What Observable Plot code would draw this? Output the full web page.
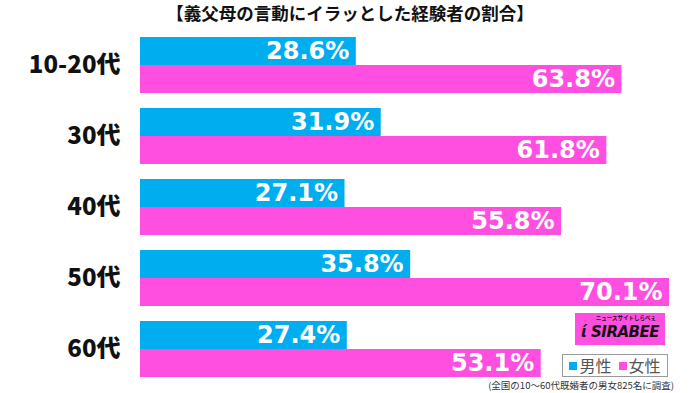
<!DOCTYPE html>
<html>
<head>
<meta charset="utf-8">
<script src="https://cdn.jsdelivr.net/npm/d3@7"></script>
<script src="https://cdn.jsdelivr.net/npm/@observablehq/plot@0.6"></script>
<style>
  body { margin: 0; background: #fff; font-family: "Noto Sans CJK JP", sans-serif; }
  #wrap { position: relative; width: 700px; height: 393px; overflow: hidden; }
  #title { height: 30px; line-height: 26px; text-align: center; font-size: 17.5px; font-weight: bold; color: #111; }
  #legend { position: absolute; left: 562px; top: 354px; width: 104px; height: 21px; border: 1px solid #9a9a9a; background: #fff;
    font-size: 16px; color: #555; line-height: 21px; text-align: center; white-space: nowrap; }
  .sw { display: inline-block; width: 8px; height: 8px; margin-right: 2px; vertical-align: 2px; }
  #caption { position: absolute; right: 26px; top: 378px; font-size: 9.5px; color: #333; white-space: nowrap; }
  #logo { position: absolute; left: 575px; top: 313px; width: 90px; height: 32px; background: #ff4fe0; }
  #logo .sub { position: absolute; right: 9px; top: 2px; font-size: 5.5px; line-height: 7px; color: #111; font-weight: bold; }
  #logo .main { position: absolute; left: 6px; top: 11px; font-family: "DejaVu Sans", sans-serif; font-size: 15px; line-height: 17px; font-weight: bold; font-style: italic; color: #111; letter-spacing: -0.5px; }
</style>
</head>
<body>
<div id="wrap">
  <div id="title">【義父母の言動にイラッとした経験者の割合】</div>
  <div id="chart"></div>
  <div id="logo"><span class="sub">ニュースサイトしらべぇ</span><span class="main">ί SIRABEE</span></div>
  <div id="legend"><span class="sw" style="background:#00aeef"></span>男性&nbsp;&nbsp;<span class="sw" style="background:#ff4fe0"></span>女性</div>
  <div id="caption">(全国の10～60代既婚者の男女825名に調査)</div>
</div>
<script>
const ages = ["10-20代", "30代", "40代", "50代", "60代"];
const genders = ["男性", "女性"];
const male = [28.6, 31.9, 27.1, 35.8, 27.4];
const female = [63.8, 61.8, 55.8, 70.1, 53.1];
const colors = ["#00aeef", "#ff4fe0"];

const data = ages.flatMap((a, i) => [
  {age: a, gender: genders[0], value: male[i]},
  {age: a, gender: genders[1], value: female[i]}
]);

const chart = Plot.plot({
  width: 700,
  height: 363,
  marginLeft: 140,
  marginRight: 31,
  marginTop: 5,
  marginBottom: 14,
  x: {domain: [0, 70.1], axis: null},
  y: {domain: genders, padding: 0, axis: null},
  fy: {domain: ages, paddingInner: 0.218, paddingOuter: 0, label: null},
  color: {domain: genders, range: colors},
  marks: [
    Plot.barX(data, {fy: "age", y: "gender", x: "value", fill: "gender"}),
    Plot.text(data, {fy: "age", y: "gender", x: "value", text: d => d.value.toFixed(1) + "%",
      textAnchor: "end", dx: -7, fill: "white", fontSize: 24, fontWeight: "bold",
      fontFamily: "DejaVu Sans"}),
    Plot.axisFy({anchor: "left", tickSize: 0, tickPadding: 20, fontSize: 24, fontWeight: 900,
      fontFamily: "Noto Sans CJK JP", fill: "#111", label: null})
  ]
});
document.getElementById("chart").appendChild(chart);
</script>
</body>
</html>
